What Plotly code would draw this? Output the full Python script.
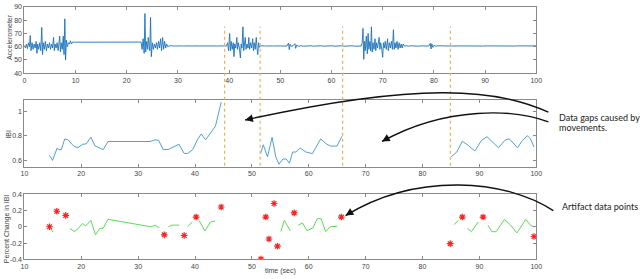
import plotly.graph_objects as go

W, H = 640, 279

# ---------------- data ----------------
acc_time = [0.0, 0.2, 0.4, 0.6, 0.8, 1.0, 1.15, 1.3, 1.5, 1.7, 1.9, 2.1, 2.3, 2.45, 2.6, 2.8, 3.0, 3.2, 3.4, 3.55,
            3.7, 3.9, 4.1, 4.3, 4.5, 4.7, 4.9, 5.1, 5.3, 5.5, 5.7, 5.85, 6.0, 6.2, 6.4, 6.6, 6.9, 7.05, 7.2, 7.4,
            7.6, 7.75, 7.9, 8.05, 8.2, 8.4, 8.6, 8.8, 9.0, 9.2, 9.4, 9.6, 9.8, 22.8,
            23.0, 23.2, 23.4, 23.55, 23.7, 23.9, 24.1, 24.2, 24.35, 24.5, 24.65, 24.8, 25.0, 25.2, 25.4, 25.6,
            25.8, 26.0, 26.2, 26.4, 26.6, 26.8, 27.0, 27.2, 27.4, 27.6, 27.8, 28.0,
            28.3, 28.7, 29.1, 29.5, 29.9, 30.3, 30.7, 31.1, 31.5, 31.9, 32.3, 32.7, 33.1, 33.5, 33.9, 34.3,
            34.7, 35.1, 35.5, 35.9, 36.3, 36.7, 37.1, 37.5, 37.9, 38.3, 38.7, 39.1, 39.5,
            39.7, 39.9, 40.1, 40.25, 40.4, 40.6, 40.8, 40.95, 41.1, 41.3, 41.5, 41.65, 41.8, 42.0, 42.2, 42.35,
            42.5, 42.7, 42.85, 43.0, 43.15, 43.3, 43.5, 43.7, 43.85, 44.0, 44.2, 44.4, 44.6, 44.75, 44.9, 45.1,
            45.3, 45.45, 45.6, 45.75, 45.9,
            46.1, 46.5, 46.9, 47.3, 47.7, 48.1, 48.5, 48.9, 49.3, 49.7, 50.1, 50.5, 50.9, 51.3,
            51.6, 51.75, 51.9, 52.1, 52.5, 52.85, 53.0, 53.2, 53.6,
            54.0, 54.5, 55.0, 55.5, 56.0, 56.5, 57.0, 57.5, 58.0, 58.5, 59.0, 59.5, 60.0, 60.5, 61.0, 61.5,
            62.0, 62.5, 63.0, 63.5, 64.0, 64.5, 65.0, 65.5,
            65.8, 66.0, 66.15, 66.3, 66.45, 66.6, 66.8, 67.0, 67.15, 67.3, 67.5, 67.65, 67.8, 67.95, 68.1, 68.3,
            68.5, 68.65, 68.8, 69.0, 69.3, 69.45, 69.6, 69.8, 70.0, 70.15, 70.3, 70.5, 70.7, 70.95, 71.1, 71.3,
            71.5, 71.7, 71.9, 72.1, 72.25, 72.4, 72.6, 72.8, 73.0, 73.2, 73.4, 73.6, 73.8, 74.0,
            74.3, 74.6, 75.0, 75.5, 76.0, 76.5, 77.0, 77.5, 78.0, 78.5, 79.0, 79.3, 79.45, 79.6, 79.8, 80.0,
            80.4, 80.8, 81.5, 82.5, 83.5, 84.5, 85.5, 86.5, 87.5, 88.5, 89.5, 90.5, 91.5, 92.5, 93.5, 94.5,
            95.5, 96.5, 97.5, 98.5, 99.5, 100.0]
acc_value = [61, 59, 62, 58.5, 63, 60, 68.5, 57, 63, 58, 62, 59, 64, 55, 62, 58, 63, 57, 74.5, 54,
             63, 58, 64, 57, 62, 59, 63, 58, 62, 59, 67, 57, 62, 59, 63, 57, 68, 56, 63, 58,
             68, 54, 81, 50, 65, 60, 63, 62, 64.5, 62, 63.5, 63.4, 63.4, 63.5,
             58, 66, 55, 85, 56, 64, 58, 67, 60, 57, 82, 52.5, 63, 58, 62, 59,
             63, 58, 64, 59, 66, 57, 67, 58, 64, 59, 62, 60,
             60.7, 60.4, 60.6, 60.5, 60.7, 60.4, 60.6, 60.5, 60.7, 60.4, 60.6, 60.5, 60.7, 60.4, 60.6, 60.5,
             60.7, 60.4, 60.6, 60.5, 60.7, 60.4, 60.6, 60.5, 60.7, 60.4, 60.6, 60.5, 60.6,
             63, 57, 70, 57, 64, 58, 63, 52.5, 62, 59, 67, 58, 63, 59, 51.5, 62,
             59, 75, 57, 63, 67, 58, 62, 59, 67, 58, 63, 59, 66, 57, 63, 58,
             67, 59, 54, 63, 59.5,
             60.7, 60.4, 60.6, 60.5, 60.7, 60.4, 60.6, 60.5, 60.7, 60.4, 60.6, 60.5, 60.7, 60.5,
             62.8, 57.8, 61.8, 60.2, 60.8, 62.3, 58.8, 61.2, 60.3,
             60.7, 60.4, 60.6, 60.5, 60.7, 60.4, 60.6, 60.5, 60.7, 60.4, 60.6, 60.5, 60.7, 60.4, 60.6, 60.5,
             60.7, 60.4, 60.6, 60.5, 60.7, 60.4, 60.6, 60.5,
             60.5, 63, 73.8, 50.5, 64, 57, 68, 54.7, 70, 58, 64, 57, 75, 56, 63, 58,
             66, 57, 63, 59, 67, 58, 63, 59, 52, 63, 59, 64, 58, 66, 57, 63,
             59, 64, 58, 72.8, 58, 63, 59, 64, 58, 63, 59, 62, 59, 62,
             60.4, 60.8, 60.4, 60.7, 60.5, 60.7, 60.4, 60.6, 60.5, 60.7, 60.5, 62.5, 58.3, 62.2, 59.5, 61,
             60.4, 60.7, 60.5, 60.6, 60.5, 60.6, 60.5, 60.6, 60.5, 60.6, 60.5, 60.6, 60.5, 60.6, 60.5, 60.6,
             60.5, 60.6, 60.5, 60.6, 60.5, 60.6]

ibi_time = [14.4, 14.95, 15.76, 16.05, 16.5, 17.1, 17.67, 18.1, 18.7, 19.4, 20.26, 20.84, 21.7, 22.4, 23.15,
            23.85, 24.7, 32.1, 32.95, 33.6, 34.4, 35.27, 37.17, 38.1, 38.7, 39.6, 40.4, 41.1, 41.86, 43.6, 44.6,
            None,
            51.54, 52.0, 52.75, 53.55, 54.2, 54.76, 55.45, 56.04, 56.6, 57.18, 57.76, 58.5, 59.5, 60.64, 62.1,
            63.06, 63.8, 64.96, 65.83,
            None,
            85.05, 86.03, 87.0, 88.05, 89.2, 90.36, 91.34, 92.38, 93.35, 94.56, 95.26, 96.7, 97.57, 98.44, 99.0,
            99.6]
ibi_value = [0.644, 0.602, 0.702, 0.689, 0.69, 0.776, 0.768, 0.75, 0.717, 0.705, 0.733, 0.735, 0.79, 0.72, 0.707,
             0.689, 0.755, 0.755, 0.768, 0.765, 0.69, 0.69, 0.733, 0.658, 0.658, 0.689, 0.768, 0.816, 0.768, 0.88,
             1.074,
             None,
             0.657, 0.729, 0.631, 0.789, 0.631, 0.571, 0.613, 0.613, 0.579, 0.67, 0.67, 0.702, 0.67, 0.657, 0.776,
             0.737, 0.718, 0.718, 0.797,
             None,
             0.631, 0.67, 0.757, 0.723, 0.678, 0.763, 0.794, 0.75, 0.705, 0.768, 0.776, 0.705, 0.763, 0.802, 0.776,
             0.71]

pct_time = [14.5, 15.0, None,
            18.0, 18.78, 19.48, 20.23, 20.81, 21.69, 22.5, 23.26, 23.84, 24.7, 32.3, 33.0, 33.7, None,
            35.3, 35.93, 37.2, None,
            38.66, 39.53, None,
            40.7, 41.74, 42.73, 43.5, None,
            55.1, 55.7, 56.74, None,
            58.14, 58.9, 59.7, 60.76, 61.5, 62.2, 62.37, 62.96, 63.8, 64.97, None,
            85.57, 86.3, None,
            87.9, 88.6, 89.8, None,
            91.5, 92.2, 92.95, 94.4, 95.5, 96.6, 98.15, 99.0, 99.5]
pct_value = [0.0, -0.067, None,
             -0.02, -0.059, -0.02, 0.04, 0.012, 0.079, -0.099, -0.02, -0.02, 0.091, 0.0, 0.02, -0.012, None,
             0.0, 0.02, 0.02, None,
             0.0, 0.059, None,
             0.079, -0.051, 0.059, 0.071, None,
             -0.059, 0.079, -0.048, None,
             0.02, 0.048, -0.048, -0.012, 0.099, 0.099, 0.06, -0.059, 0.0, 0.006, None,
             0.027, 0.079, None,
             -0.02, -0.06, 0.06, None,
             0.02, -0.06, -0.06, 0.09, 0.02, -0.075, 0.09, 0.02, 0.0]

artifact_time = [14.42, 15.7, 17.27, 34.6, 38.1, 40.2, 44.6, 51.6, 52.44, 53.0, 53.9, 54.5, 57.44,
                 65.73, 84.87, 87.0, 90.65, 99.6]
artifact_value = [0.0, 0.19, 0.139, -0.099, -0.107, 0.119, 0.242, -0.396, 0.119, -0.15, 0.285, -0.238, 0.17,
                  0.119, -0.207, 0.119, 0.119, -0.119]

gap_marks = [45.2, 51.45, 65.95, 84.9]   # in IBI time axis

acc_ticks = [40, 50, 60, 70, 80, 90]
ibi_ticks = [0.6, 0.8, 1]
pct_ticks = [-0.4, -0.2, 0, 0.2, 0.4]
time_ticks = [10, 20, 30, 40, 50, 60, 70, 80, 90, 100]
acc_time_ticks = [0, 10, 20, 30, 40, 50, 60, 70, 80, 90, 100]

# ---------------- figure ----------------
def P(x, y):
    return x / W, 1 - y / H

xd = [20.7 / W, 540.7 / W]
fig = go.Figure()

fig.add_trace(go.Scatter(x=acc_time, y=acc_value, mode="lines",
                         line=dict(color="#1a72bd", width=0.9), xaxis="x", yaxis="y"))
fig.add_trace(go.Scatter(x=ibi_time, y=ibi_value, mode="lines", connectgaps=False,
                         line=dict(color="#4aa3df", width=1), xaxis="x2", yaxis="y2"))
fig.add_trace(go.Scatter(x=pct_time, y=pct_value, mode="lines", connectgaps=False,
                         line=dict(color="#55e055", width=1), xaxis="x3", yaxis="y3"))
fig.add_trace(go.Scatter(x=artifact_time, y=artifact_value, mode="markers",
                         marker=dict(symbol="asterisk", size=5.5, color="#ff2020",
                                     line=dict(color="#ff2020", width=1.2)),
                         xaxis="x3", yaxis="y3"))

tickfont = dict(family="Liberation Sans, Arial", size=7, color="#444")
axcommon = dict(showgrid=False, zeroline=False, showline=True, linecolor="#8a8a8a", linewidth=1,
                mirror="ticks", ticks="inside", ticklen=3, tickcolor="#8a8a8a", tickfont=tickfont)

fig.update_layout(
    width=W, height=H, margin=dict(l=0, r=0, t=0, b=0),
    paper_bgcolor="white", plot_bgcolor="white", showlegend=False,
    xaxis=dict(domain=xd, range=[0, 100], tickvals=acc_time_ticks, anchor="y", **axcommon),
    yaxis=dict(domain=[1 - 71 / H, 1 - 3 / H], range=[40, 90], tickvals=acc_ticks, anchor="x", **axcommon),
    xaxis2=dict(domain=xd, range=[10, 100], tickvals=time_ticks, anchor="y2", **axcommon),
    yaxis2=dict(domain=[1 - 167 / H, 1 - 98 / H], range=[0.55, 1.095], tickvals=ibi_ticks,
                ticktext=["0.6", "0.8", "1"], anchor="x2", **axcommon),
    xaxis3=dict(domain=xd, range=[10, 100], tickvals=time_ticks, anchor="y3", **axcommon),
    yaxis3=dict(domain=[1 - 262 / H, 1 - 195 / H], range=[-0.4, 0.4], tickvals=pct_ticks,
                ticktext=["-0.4", "-0.2", "0", "0.2", "0.4"], anchor="x3", **axcommon),
)

# gap marker lines (orange dotted), spanning from top panel into IBI panel
for g in gap_marks:
    fig.add_shape(type="line", xref="x2", yref="paper", x0=g, x1=g,
                  y0=1 - 166 / H, y1=1 - 23 / H,
                  line=dict(color="#f8b04e", width=1.2, dash="dot"))

# curved annotation arrows
def curve(p0, c1, c2, p1):
    a, b, c, d = P(*p0), P(*c1), P(*c2), P(*p1)
    return f"M {a[0]},{a[1]} C {b[0]},{b[1]} {c[0]},{c[1]} {d[0]},{d[1]}"

arrows = [((553, 111), (500, 86), (420, 80), (245, 119)),
          ((553, 121), (520, 108), (450, 104), (384, 141)),
          ((558, 212), (510, 180), (420, 172), (347, 217))]
for p0, c1, c2, p1 in arrows:
    fig.add_shape(type="path", xref="paper", yref="paper", path=curve(p0, c1, c2, p1),
                  line=dict(color="#111", width=1.4))
    dx, dy = p1[0] - c2[0], p1[1] - c2[1]
    n = (dx * dx + dy * dy) ** 0.5
    tx, ty = P(*p1)
    fig.add_annotation(xref="paper", yref="paper", x=tx, y=ty, text="", showarrow=True,
                       ax=-dx / n * 10, ay=-dy / n * 10, arrowhead=2, arrowsize=1.1,
                       arrowwidth=1.4, arrowcolor="#111")

textfont = dict(family="Lato, Open Sans, sans-serif", size=9, color="#222")
for txt, (x, y) in [("Data gaps caused by", (562, 116)), ("movements.", (562, 127)),
                    ("Artifact data points", (565, 208))]:
    px_, py_ = P(x, y)
    fig.add_annotation(xref="paper", yref="paper", x=px_, y=py_, text=txt, showarrow=False,
                       xanchor="left", yanchor="middle", font=textfont)

# axis titles
labfont = dict(family="Liberation Sans, Arial", size=7, color="#444")
for txt, (x, y) in [("Accelerometer", (5, 34)), ("IBI", (5, 133)), ("Percent Change in IBI", (3, 230))]:
    px_, py_ = P(x, y)
    fig.add_annotation(xref="paper", yref="paper", x=px_, y=py_, text=txt, showarrow=False,
                       textangle=-90, xanchor="center", yanchor="middle", font=labfont)
px_, py_ = P(280.7, 274)
fig.add_annotation(xref="paper", yref="paper", x=px_, y=py_, text="time (sec)", showarrow=False,
                   xanchor="center", yanchor="middle", font=labfont)

fig.write_html("out.html", config={"displayModeBar": False},
               post_script="document.body.style.margin='0';document.body.style.overflow='hidden';")
